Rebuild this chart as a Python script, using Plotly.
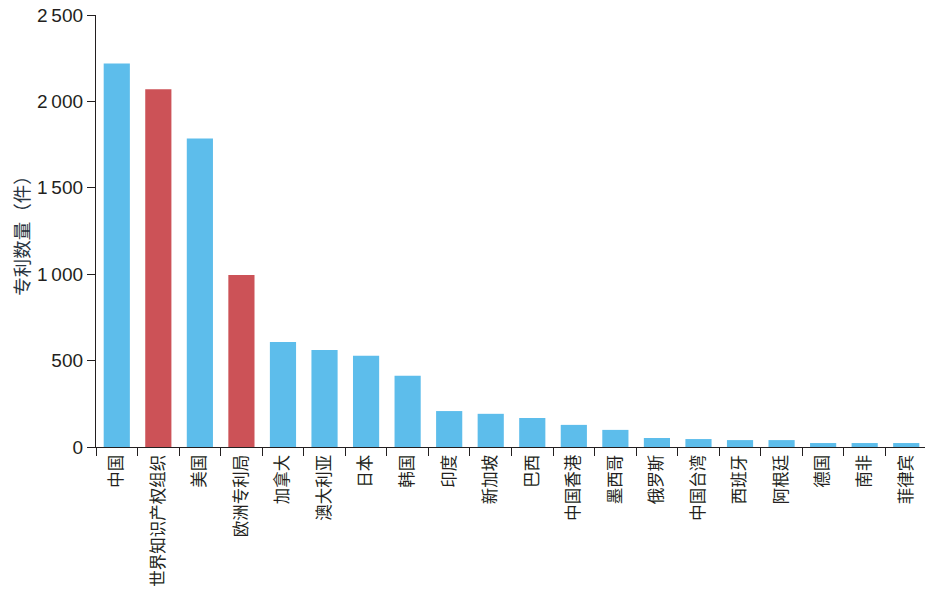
import plotly.graph_objects as go

categories = ["中国", "世界知识产权组织", "美国", "欧洲专利局", "加拿大", "澳大利亚", "日本", "韩国",
              "印度", "新加坡", "巴西", "中国香港", "墨西哥", "俄罗斯", "中国台湾", "西班牙",
              "阿根廷", "德国", "南非", "菲律宾"]
patents = [2220, 2070, 1785, 995, 608, 562, 528, 412, 208, 192, 168, 128, 99, 52, 46, 40, 40, 23, 23, 23]
is_org = [False, True, False, True] + [False] * 16

y_tickvals = [0, 500, 1000, 1500, 2000, 2500]
y_ticktext = ["0", "500", "1\u2009000", "1\u2009500", "2\u2009000", "2\u2009500"]

BLUE = "#5DBDEB"
RED = "#CC5257"
colors = [RED if o else BLUE for o in is_org]

FONT = "Liberation Sans, Noto Sans CJK SC, sans-serif"
TXT = "#231f20"

fig = go.Figure(go.Bar(x=categories, y=patents, marker=dict(color=colors, line=dict(width=0))))

# page body has an 8px default margin, so the figure is 8px smaller and margins shifted
fig.update_layout(
    width=925, height=586,
    margin=dict(l=88, r=6, t=7, b=147),
    paper_bgcolor="white", plot_bgcolor="white",
    bargap=0.37,
    showlegend=False,
    font=dict(family=FONT, color=TXT),
)
fig.update_xaxes(
    type="category",
    automargin=False,
    showline=True, linecolor=TXT, linewidth=1.3,
    ticks="outside", ticklen=8, tickcolor=TXT, tickwidth=1.3,
    tickson="boundaries",
    tickangle=-90,
    tickfont=dict(size=16.5, family="Noto Sans CJK SC, sans-serif", color=TXT),
    showgrid=False,
)
fig.update_yaxes(
    range=[0, 2500],
    automargin=False,
    ticklabeloverflow="allow",
    tickmode="array", tickvals=y_tickvals, ticktext=y_ticktext,
    showline=True, linecolor=TXT, linewidth=1.3,
    ticks="outside", ticklen=8, tickcolor=TXT, tickwidth=1.3,
    tickfont=dict(size=19, family=FONT, color=TXT),
    showgrid=False, zeroline=False,
    title=dict(text="专利数量（件）", font=dict(size=18.5, family="Noto Sans CJK SC, sans-serif", color="#2a3440"), standoff=2),
)

fig.write_html("out.html")
